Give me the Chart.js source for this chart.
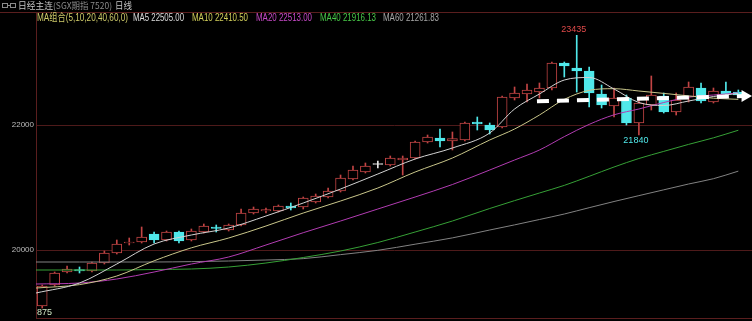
<!DOCTYPE html>
<html><head><meta charset="utf-8">
<script src="https://cdn.jsdelivr.net/npm/chart.js@4.4.1/dist/chart.umd.min.js"></script>
<style>
html,body{margin:0;padding:0;background:#000;width:752px;height:321px;overflow:hidden;}
#wrap{position:relative;width:752px;height:321px;background:#000;}
canvas{position:absolute;left:0;top:0;}
.t{position:absolute;white-space:nowrap;line-height:1;transform-origin:0 50%;font-family:"Liberation Sans","Noto Sans CJK SC",sans-serif;}
.cjk{font-family:"Noto Sans CJK SC","Liberation Sans",sans-serif;}
#icon{position:absolute;left:2px;top:3px;width:14px;height:5px;}
#icon i{position:absolute;top:0;width:4px;height:3px;border:1px solid #8a8a8a;}
#icon b{position:absolute;left:5px;top:2px;width:4px;height:1px;background:#8a8a8a;}
</style></head><body>
<div id="wrap">
<canvas id="c" width="752" height="321"></canvas>
<div id="icon"><i style="left:0"></i><b></b><i style="left:8px"></i></div>
<span class="t cjk fit" data-w="35" style="left:18px;top:1px;font-size:9px;color:#c4c4c4">日经主连</span>
<span class="t cjk fit" data-w="59" style="left:53px;top:1px;font-size:9px;color:#8a8a8a">(SGX期指 7520)</span>
<span class="t cjk fit" data-w="17" style="left:115px;top:1px;font-size:9px;color:#c4c4c4">日线</span>
<div id="legend"></div>
<span class="t fit" data-w="15" style="left:37px;top:308px;font-size:9px;color:#cfe8c4">875</span>
</div>
<script>
// ---- data ----
const yTicks = [20000, 22000];
const open  = [19104,19440,19648,19688,19664,19792,19952,20112,20128,20256,20160,20288,20160,20288,20368,20320,20400,20592,20624,20624,20704,20688,20768,20848,20944,21136,21248,21376,21360,21440,21472,21728,21792,21744,21760,22048,22000,21968,22432,22496,22528,22592,22992,22912,22864,22496,22304,22432,22032,22320,22464,22208,22448,22592,22368,22544,22528];
const close = [19424,19632,19696,19664,19792,19952,20096,20128,20208,20160,20288,20144,20304,20384,20344,20400,20592,20656,20648,20704,20672,20832,20864,20944,21152,21280,21344,21376,21472,21472,21728,21808,21744,21784,22032,22016,21920,22448,22512,22560,22592,22992,22944,22864,22512,22320,22432,22032,22352,22480,22208,22400,22608,22384,22544,22496,22480];
const high  = [19440,19648,19744,19728,19808,19984,20160,20192,20368,20288,20304,20304,20336,20416,20400,20416,20656,20688,20672,20720,20752,20848,20896,20992,21200,21344,21392,21424,21504,21504,21744,21840,21936,21888,22048,22128,22032,22464,22608,22656,22672,23008,23008,23435,22928,22640,22592,22480,22400,22784,22512,22512,22688,22672,22592,22688,22560];
const low   = [19072,19424,19632,19632,19648,19776,19936,20080,20112,20112,20144,20112,20144,20272,20288,20304,20384,20576,20592,20608,20640,20656,20752,20832,20928,21120,21232,21312,21344,21200,21456,21712,21648,21600,21744,21920,21856,21952,22400,22368,22432,22560,22768,22528,22288,22272,22128,22000,21840,22240,22192,22160,22368,22352,22352,22432,22448];
// moving-average lines, sampled at these candle positions
const maIdx = [-0.5,3,6,9,12,15,18,21,24,27,30,33,36,38,40,42,44,46,48,50,52,54,56];
const ma5  = [19312,19472,19776,20096,20240,20352,20544,20752,20976,21216,21456,21632,21872,22256,22496,22720,22760,22576,22360,22312,22384,22456,22505.00];
const ma10 = [19392,19446,19584,19827,20035,20192,20384,20592,20784,20992,21248,21472,21760,21936,22160,22410,22554,22581,22544,22506,22466,22429,22410.50];
const ma20 = [19456,19472,19536,19648,19776,19888,20080,20277,20464,20656,20848,21048,21280,21440,21600,21814,22010,22163,22256,22360,22445,22480,22513.00];
const ma40 = [19680,19680,19680,19688,19696,19728,19792,19880,19984,20120,20288,20464,20664,20790,20912,21034,21179,21328,21464,21578,21690,21795,21916.13];
const ma60 = [19808,19808,19808,19808,19814,19824,19840,19862,19926,19995,20093,20194,20320,20402,20488,20576,20677,20776,20870,20963,21056,21141,21261.83];
// white dashed trend arrow (position, value)
const trendX = [39.8, 56.54];
const trendY = [22379, 22464];

const RED = '#c24444', CYAN = '#50e8ea', WHITE = '#e6e6e6';
const maColors = {MA5:'#d2d2d2', MA10:'#c9c68a', MA20:'#b23cb2', MA40:'#36a036', MA60:'#828282'};
const legendColors = {MA5:'#dcdcdc', MA10:'#d2cf5a', MA20:'#c84ac8', MA40:'#48c848', MA60:'#a6a6a6'};

// legend text (HTML)
const legendItems = [
  {txt:'MA组合(5,10,20,40,60,0)', x:37, w:91, c:'#cfcb6a'},
  {txt:'MA5 ' + ma5[ma5.length-1].toFixed(2), x:133, w:51, c:legendColors.MA5},
  {txt:'MA10 ' + ma10[ma10.length-1].toFixed(2), x:192, w:56, c:legendColors.MA10},
  {txt:'MA20 ' + ma20[ma20.length-1].toFixed(2), x:256, w:56, c:legendColors.MA20},
  {txt:'MA40 ' + ma40[ma40.length-1].toFixed(2), x:320, w:56, c:legendColors.MA40},
  {txt:'MA60 ' + ma60[ma60.length-1].toFixed(2), x:383, w:56, c:legendColors.MA60}
];
const lg = document.getElementById('legend');
legendItems.forEach(it => {
  const s = document.createElement('span');
  s.className = 't fit'; s.textContent = it.txt; s.dataset.w = it.w;
  s.style.cssText = `left:${it.x}px;top:12.5px;font-size:10px;color:${it.c}`;
  lg.appendChild(s);
});
function fitAll(){
  document.querySelectorAll('.fit').forEach(el => {
    el.style.transform = 'none';
    const w = el.getBoundingClientRect().width;
    if (w > 0) el.style.transform = `scaleX(${(+el.dataset.w)/w})`;
  });
}
fitAll();
if (document.fonts && document.fonts.ready) document.fonts.ready.then(fitAll);

// ---- chart ----
const col = open.map((o,i) => close[i] > o ? RED : (close[i] < o ? CYAN : WHITE));
const bodyBg = open.map((o,i) => close[i] > o ? '#000' : col[i]);
const MINB = 16;
const bodyData = open.map((o,i) => {
  let lo = Math.min(o, close[i]), hi = Math.max(o, close[i]);
  if (hi - lo < MINB) { const m = (hi + lo) / 2; lo = m - MINB/2; hi = m + MINB/2; }
  return {x:i, y:[lo, hi]};
});
const wickData = open.map((o,i) => ({x:i, y:[low[i], high[i]]}));
const maLine = (name, arr) => ({
  type:'line', label:name, data: maIdx.map((x,k) => ({x, y:arr[k]})),
  borderColor: maColors[name], borderWidth:1, pointRadius:0, tension:0,
  cubicInterpolationMode:'monotone', order:1
});

const framePlugin = {
  id:'frame',
  beforeDraw(chart){
    const {ctx, chartArea:a} = chart;
    ctx.save();
    ctx.fillStyle = '#000'; ctx.fillRect(0,0,chart.width,chart.height);
    ctx.strokeStyle = '#5a1e1e'; ctx.lineWidth = 1;
    ctx.beginPath();
    ctx.moveTo(0, a.top - 0.5); ctx.lineTo(chart.width, a.top - 0.5);
    ctx.moveTo(a.left, a.bottom + 0.5); ctx.lineTo(a.right, a.bottom + 0.5);
    ctx.stroke();
    ctx.restore();
  }
};
// marks the highest high and the lowest low after it
const hiLoPlugin = {
  id:'hilo',
  afterDatasetsDraw(chart){
    const {ctx, scales:{x, y}} = chart;
    let hi = 0;
    high.forEach((v,i) => { if (v > high[hi]) hi = i; });
    let lo = hi;
    for (let i = hi; i < low.length; i++) if (low[i] < low[lo]) lo = i;
    ctx.save();
    ctx.font = '9px "Liberation Sans"';
    ctx.textAlign = 'center'; ctx.textBaseline = 'middle';
    ctx.fillStyle = '#e04a4a';
    ctx.fillText(String(high[hi]), x.getPixelForValue(hi) - 3, y.getPixelForValue(high[hi]) - 6);
    ctx.fillStyle = CYAN;
    ctx.fillText(String(low[lo]), x.getPixelForValue(lo) - 3, y.getPixelForValue(low[lo]) + 6);
    ctx.restore();
  }
};

new Chart(document.getElementById('c'), {
  type:'bar',
  data:{
    datasets:[
      {type:'line', label:'trend', data: trendX.map((x,k) => ({x, y:trendY[k]})),
       borderColor:'#ffffff', borderWidth:4, borderDash:[12,8], borderCapStyle:'butt',
       pointRadius:[0,7], pointStyle:'triangle', pointRotation:90,
       pointBackgroundColor:'#ffffff', pointBorderColor:'#ffffff', pointBorderWidth:0,
       tension:0, order:0, clip:false},
      maLine('MA5', ma5), maLine('MA10', ma10), maLine('MA20', ma20), maLine('MA40', ma40), maLine('MA60', ma60),
      {type:'bar', label:'body', data: bodyData, backgroundColor: bodyBg, borderColor: col,
       borderWidth:1, borderSkipped:false, barThickness:10, grouped:false, order:2},
      {type:'bar', label:'wick', data: wickData, backgroundColor: col, borderWidth:0,
       barThickness:1, grouped:false, order:3}
    ]
  },
  options:{
    responsive:false, devicePixelRatio:1, animation:false,
    layout:{autoPadding:false, padding:{top:13, bottom:3, left:0, right:0}},
    plugins:{legend:{display:false}, tooltip:{enabled:false}},
    scales:{
      x:{type:'linear', min:-0.5, max:57.1, offset:false, display:false},
      y:{type:'linear', position:'left', min:18912, max:23792,
         afterBuildTicks: s => { s.ticks = yTicks.map(v => ({value:v})); },
         afterFit: s => { s.width = 36; s.paddingTop = 0; s.paddingBottom = 0; },
         ticks:{color:'#bdbdbd', font:{family:'Liberation Sans', size:8}, padding:2, callback: v => String(v)},
         grid:{color:'#4e1a1a', lineWidth:1, drawTicks:false},
         border:{color:'#5a1e1e', width:1}}
    }
  },
  plugins:[framePlugin, hiLoPlugin]
});
</script>
</body></html>
